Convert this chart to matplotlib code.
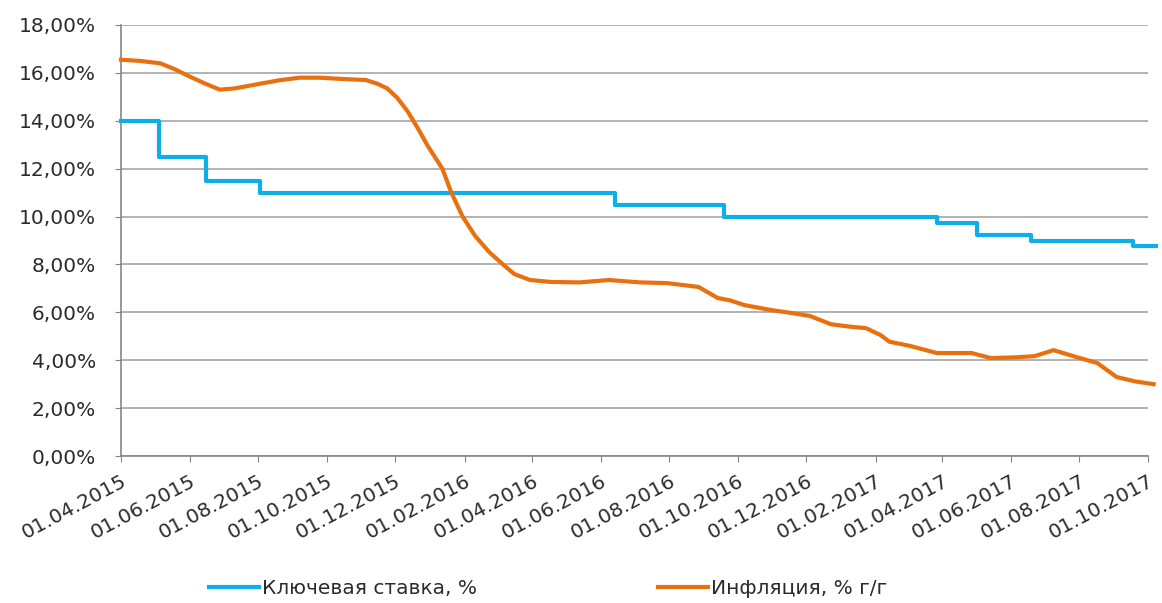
import matplotlib
matplotlib.use("Agg")
import matplotlib.pyplot as plt
import matplotlib.ticker as mticker
import pandas as pd

# Key rate (step series)
rate_dates = ["2015-04-01", "2015-05-05", "2015-06-16", "2015-08-03", "2016-06-14",
              "2016-09-19", "2017-03-27", "2017-05-02", "2017-06-19", "2017-09-18", "2017-10-08"]
rate_values = [14.0, 12.5, 11.5, 11.0, 10.5, 10.0, 9.75, 9.25, 9.0, 8.75, 8.75]

# Inflation, % y/y
infl_dates = ["2015-04-01", "2015-04-18", "2015-05-06", "2015-05-19", "2015-06-01", "2015-06-15",
              "2015-06-28", "2015-07-11", "2015-08-03", "2015-08-21", "2015-09-07", "2015-09-25",
              "2015-10-13", "2015-11-05", "2015-11-15", "2015-11-24", "2015-12-03", "2015-12-12",
              "2015-12-21", "2015-12-30", "2016-01-12", "2016-01-20", "2016-01-30", "2016-02-10",
              "2016-02-23", "2016-03-06", "2016-03-16", "2016-03-30", "2016-04-17", "2016-05-13",
              "2016-06-08", "2016-07-06", "2016-07-30",
              "2016-08-27", "2016-09-13", "2016-09-24", "2016-10-07", "2016-10-30", "2016-11-18",
              "2016-12-04", "2016-12-23", "2017-01-09", "2017-01-23", "2017-02-05", "2017-02-13",
              "2017-03-03", "2017-03-27", "2017-04-27", "2017-05-14", "2017-06-05", "2017-06-22",
              "2017-07-09", "2017-07-28", "2017-08-17", "2017-09-03", "2017-09-19", "2017-10-06"]
infl_values = [16.55, 16.5, 16.4, 16.15, 15.85, 15.55,
               15.3, 15.35, 15.55, 15.7, 15.8, 15.8,
               15.75, 15.7, 15.55, 15.35, 14.95, 14.4,
               13.7, 12.95, 12.0, 11.0, 10.0, 9.2,
               8.5, 8.0, 7.6, 7.35, 7.27, 7.25,
               7.35, 7.25, 7.22,
               7.06, 6.6, 6.5, 6.3, 6.1, 5.97,
               5.85, 5.5, 5.4, 5.34, 5.05, 4.77,
               4.6, 4.3, 4.3, 4.09, 4.12, 4.17,
               4.42, 4.15, 3.88, 3.3, 3.12, 3.0]

tick_labels = ["01.04.2015", "01.06.2015", "01.08.2015", "01.10.2015", "01.12.2015",
               "01.02.2016", "01.04.2016", "01.06.2016", "01.08.2016", "01.10.2016",
               "01.12.2016", "01.02.2017", "01.04.2017", "01.06.2017", "01.08.2017", "01.10.2017"]
series_names = ["Ключевая ставка, %", "Инфляция, % г/г"]

plt.rcParams['font.family'] = ['DejaVu Sans']
FS = 14.5

fig = plt.figure(figsize=(11.62, 6.03), dpi=100)
ax = fig.add_axes([121/1162, 1-456/603, (1148-121)/1162, (456-25)/603])

rd = pd.to_datetime(rate_dates)
idt = pd.to_datetime(infl_dates)

ax.plot(rd, rate_values, drawstyle='steps-post', color='#0FAEE6', lw=3.0,
        label=series_names[0], clip_on=False, zorder=3)
ax.plot(idt, infl_values, color='#E8700F', lw=3.0, label=series_names[1],
        clip_on=False, zorder=3, solid_joinstyle='round')

tick_dates = pd.to_datetime(tick_labels, format="%d.%m.%Y")
ax.set_xlim(tick_dates[0], tick_dates[-1])
ax.set_xticks(tick_dates)
ax.set_xticklabels(tick_labels, rotation=28, ha='right', va='top',
                   rotation_mode='anchor', fontsize=FS, color='#2b2b2b')

ax.set_ylim(0, 18)
ax.set_yticks(range(0, 19, 2))
ax.yaxis.set_major_formatter(mticker.FuncFormatter(lambda v, p: f"{v:.2f}%".replace('.', ',')))
ax.tick_params(axis='y', labelsize=FS, labelcolor='#2b2b2b', length=4, color='#868686', pad=14)
ax.tick_params(axis='x', length=4, color='#868686', pad=7)

ax.grid(axis='y', color='#A6A6A6', lw=1.2)
ax.set_axisbelow(True)
for s in ['top', 'right']:
    ax.spines[s].set_visible(False)
for s in ['left', 'bottom']:
    ax.spines[s].set_color('#868686')
    ax.spines[s].set_linewidth(1.2)

fig.legend(loc='center left', bbox_to_anchor=(209/1162, 1-589/603), ncol=2, frameon=False,
           borderpad=0, borderaxespad=0,
           fontsize=FS, handlelength=2.5, handletextpad=0.12, columnspacing=9.0,
           labelcolor='#2b2b2b')

fig.savefig("out.png", dpi=100)
